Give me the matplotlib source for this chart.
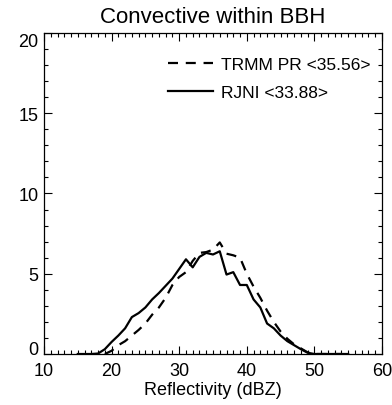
import matplotlib
matplotlib.use("Agg")
import matplotlib.pyplot as plt
from matplotlib.ticker import MultipleLocator

plt.rcParams['font.family'] = ['Liberation Sans', 'DejaVu Sans']

# Reflectivity bins (dBZ) and frequency (%) for each sensor
dbz_rjni = list(range(15, 56))
freq_rjni = [0, 0, 0, 0.03, 0.3, 0.75, 1.15, 1.6, 2.3, 2.55, 2.9, 3.4, 3.8, 4.25,
             4.7, 5.3, 5.9, 5.4, 6.05, 6.3, 6.2, 6.4, 4.95, 5.1, 4.3, 4.3,
             3.4, 2.9, 1.9, 1.6, 1.15, 0.8, 0.55, 0.3, 0.08, 0, 0, 0, 0, 0, 0]

dbz_trmm = list(range(19, 55))
freq_trmm = [0, 0.2, 0.55, 0.8, 1.15, 1.5, 1.9, 2.45, 2.9, 3.5, 4.3, 4.8, 5.1,
             5.8, 6.3, 6.35, 6.5, 6.95, 6.25, 6.15, 6.0, 5.0, 4.2, 3.5, 2.7, 2.0,
             1.4, 0.95, 0.6, 0.35, 0.1, 0, 0, 0, 0, 0]

label_trmm = "TRMM PR <35.56>"
label_rjni = "RJNI <33.88>"
title = "Convective within BBH"

fig = plt.figure(figsize=(3.92, 4.06), dpi=100)
ax = fig.add_axes([0.1122, 0.1256, 0.8623, 0.7907])

ax.plot(dbz_trmm, freq_trmm, color='black', lw=1.6, linestyle=(0, (4.5, 3.5)),
        label=label_trmm)
ax.plot(dbz_rjni, freq_rjni, color='black', lw=1.6, label=label_rjni)

ax.set_xlim(10, 60)
ax.set_ylim(0, 20)
ax.xaxis.set_major_locator(MultipleLocator(10))
ax.xaxis.set_minor_locator(MultipleLocator(1))
ax.yaxis.set_major_locator(MultipleLocator(5))
ax.yaxis.set_minor_locator(MultipleLocator(1))
ax.tick_params(which='both', direction='in', top=True, right=True,
               labelsize=13, width=0.8)
ax.tick_params(which='major', length=6)
ax.tick_params(axis='x', which='major', pad=6)
ax.tick_params(axis='y', which='major', pad=4)
ax.tick_params(which='minor', length=3)
for s in ax.spines.values():
    s.set_linewidth(0.9)

ax.set_xlabel("Reflectivity (dBZ)", fontsize=13, labelpad=1.5)
ax.set_title(title, fontsize=16, pad=8)

ax.legend(loc='upper right', frameon=False, fontsize=12.5, handlelength=2.6,
          handletextpad=0.45, labelspacing=0.75, borderaxespad=0, borderpad=0,
          bbox_to_anchor=(0.965, 0.925))

# keep the end labels of the y axis inside the axis span
fig.canvas.draw()
for tick in ax.yaxis.get_major_ticks():
    loc = tick.get_loc()
    if abs(loc - 0) < 1e-9:
        tick.label1.set_va('baseline')
    elif abs(loc - 20) < 1e-9:
        tick.label1.set_va('top')

fig.savefig("out.png", dpi=100)
